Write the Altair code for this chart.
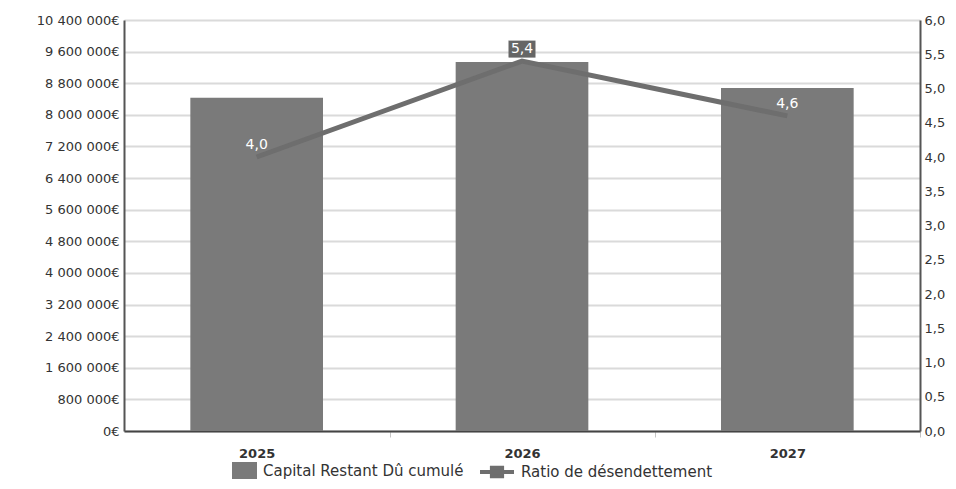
import altair as alt
import pandas as pd

years = ["2025", "2026", "2027"]
capital = [8430000, 9340000, 8680000]
ratio = [4.0, 5.4, 4.6]
left_ticks = [0, 800000, 1600000, 2400000, 3200000, 4000000, 4800000,
              5600000, 6400000, 7200000, 8000000, 8800000, 9600000, 10400000]
right_ticks = [0.0, 0.5, 1.0, 1.5, 2.0, 2.5, 3.0, 3.5, 4.0, 4.5, 5.0, 5.5, 6.0]
bar_name = "Capital Restant Dû cumulé"
line_name = "Ratio de désendettement"

df = pd.DataFrame({
    "year": years,
    "capital": capital,
    "ratio": ratio,
    "serie_bar": [bar_name] * 3,
    "serie_line": [line_name] * 3,
})

FONT = "DejaVu Sans"
BAR = "#7a7a7a"
LINE = "#6e6e6e"

x = alt.X(
    "year:N",
    scale=alt.Scale(paddingInner=0.5, paddingOuter=0.25),
    axis=alt.Axis(
        title=None, labelAngle=0, tickOffset=133, labelOffset=-133,
        domainColor="#444", domainWidth=2, tickColor="#c4c4c4", tickSize=6,
        tickWidth=1, labelFontSize=13, labelFontWeight="bold",
        labelColor="#333", labelPadding=10, grid=False,
    ),
)

base = alt.Chart(df)

bars = base.mark_bar().encode(
    x=x,
    y=alt.Y(
        "capital:Q",
        scale=alt.Scale(domain=[0, 10400000], nice=False),
        axis=alt.Axis(
            title=None, values=left_ticks,
            labelExpr="replace(format(datum.value, ',.0f'), /,/g, ' ') + '€'",
            domainColor="#555", domainWidth=2, ticks=False,
            gridColor="#dadada", gridWidth=2, labelFontSize=13,
            labelColor="#333", labelPadding=5,
        ),
    ),
    fill=alt.Fill(
        "serie_bar:N",
        scale=alt.Scale(range=[BAR]),
        legend=alt.Legend(
            orient="none", legendX=108, legendY=438, title=None,
            symbolType="M-1,-0.68H1V0.68H-1Z", symbolSize=625,
            symbolStrokeWidth=0, labelFontSize=15, labelColor="#333",
            labelFont=FONT, labelLimit=400, labelOffset=6,
        ),
    ),
)

yr = alt.Y(
    "ratio:Q",
    scale=alt.Scale(domain=[0, 6], nice=False),
    axis=alt.Axis(
        title=None, orient="right", values=right_ticks,
        labelExpr="replace(format(datum.value, '.1f'), '.', ',')",
        domainColor="#555", domainWidth=2, ticks=False, grid=False,
        labelFontSize=13, labelColor="#333", labelPadding=4,
    ),
)

line = base.mark_line(strokeWidth=5).encode(
    x=x,
    y=yr,
    stroke=alt.Stroke(
        "serie_line:N",
        scale=alt.Scale(range=[LINE]),
        legend=alt.Legend(
            orient="none", legendX=354, legendY=433, title=None,
            symbolType="M-1,0H1M-0.3,-0.25H0.3V0.25H-0.3Z", symbolSize=1156,
            symbolStrokeWidth=4, symbolFillColor=LINE, labelFontSize=15,
            labelColor="#333", labelFont=FONT, labelLimit=400, labelOffset=5,
        ),
    ),
)

box = base.transform_filter("datum.year == '2026'").mark_point(
    shape="M-1,-0.63H1V0.63H-1Z", filled=True, size=729, color="#666666",
    opacity=1, yOffset=-12,
).encode(x=x, y=yr)

labels = base.transform_calculate(
    lab="replace(format(datum.ratio, '.1f'), '.', ',')"
).mark_text(color="white", dy=-12, fontSize=14, font=FONT).encode(
    x=x, y=yr, text="lab:N"
)

right = alt.layer(line, box, labels)

chart = alt.layer(bars, right).resolve_scale(
    y="independent", fill="independent", stroke="independent"
).properties(
    width=796, height=411,
    autosize=alt.AutoSizeParams(type="none"),
    padding={"left": 116, "top": 12, "right": 28, "bottom": 50},
).configure(font=FONT).configure_view(stroke=None)

chart.save("out.html", embed_options={"renderer": "svg", "actions": False})
